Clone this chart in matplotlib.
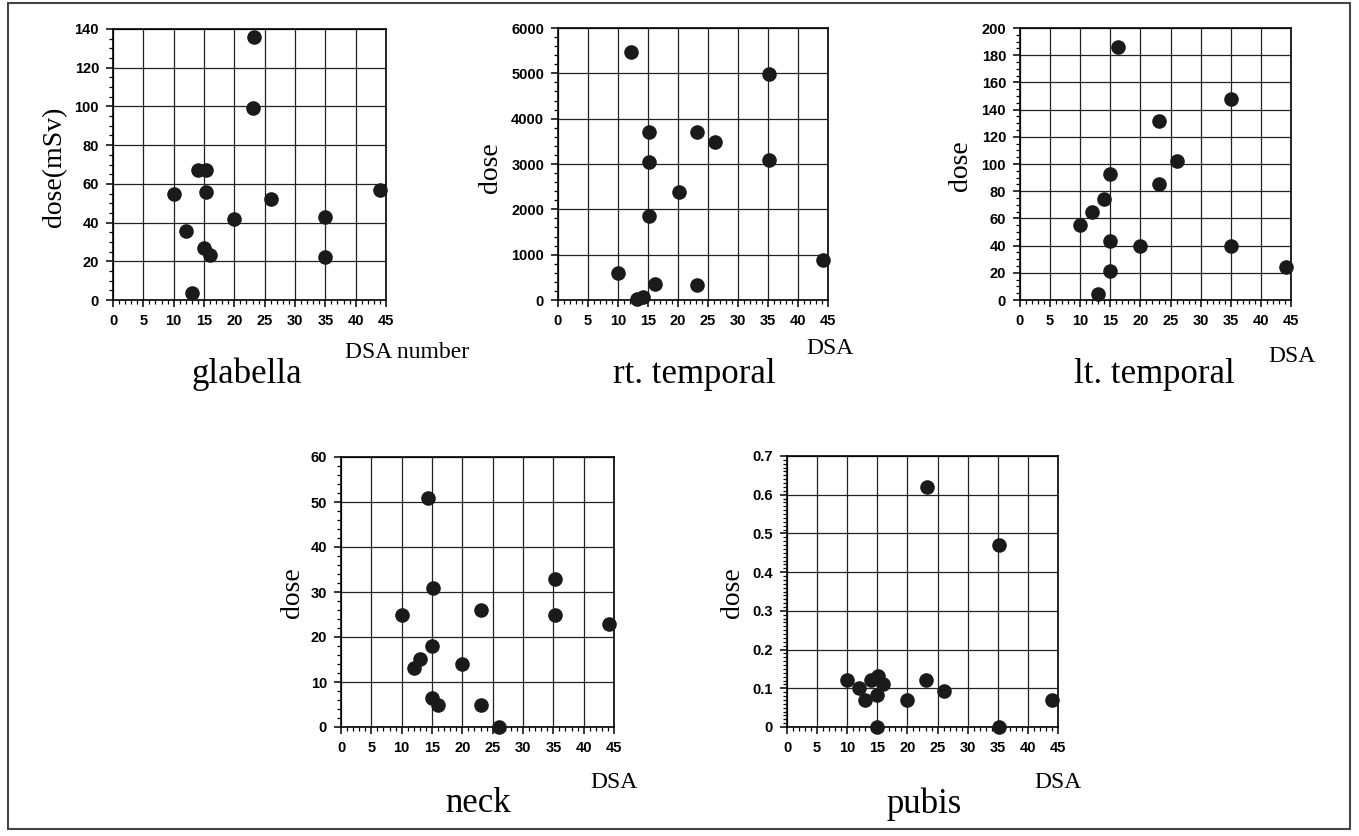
import numpy as np
import matplotlib.pyplot as plt
from matplotlib.patches import Rectangle
from matplotlib.ticker import MultipleLocator

W, H = 1359, 836

# DSA numbers and dose readings, one list per site
glabella_x = [10, 12, 13, 14, 15.3, 15.3, 15, 16, 20, 23, 23.3, 26, 35, 35, 44]
glabella_y = [55, 35.5, 3.4, 67, 67, 56, 27, 23, 42, 99, 136, 52, 43, 22, 57]

rt_x = [10, 12.2, 13.1, 14.1, 15.1, 15.1, 15.2, 16.2, 20.2, 23.1, 23.1, 26.2, 35.2, 35.2, 44.2]
rt_y = [600, 5460, 25, 75, 1860, 3040, 3710, 345, 2390, 3700, 320, 3475, 4980, 3080, 890]

lt_x = [9.9, 12, 13, 14, 15, 15, 15, 16.2, 20, 23.1, 23.1, 26, 35, 35, 44.2]
lt_y = [55, 65, 4.4, 74, 93, 43.5, 21, 186, 39.5, 131.5, 85.5, 102, 148, 40, 24]

neck_x = [10, 12, 13, 14.3, 15, 15, 15.1, 16, 20, 23.1, 23, 26, 35.2, 35.2, 44.1]
neck_y = [25, 13.2, 15.2, 51, 6.4, 18, 31, 5, 14, 26, 5, 0, 33, 25, 23]

pubis_x = [10, 12, 13, 13.9, 15.1, 15, 15, 16, 20, 23, 23.2, 26.1, 35.2, 35.2, 44]
pubis_y = [0.122, 0.102, 0.07, 0.122, 0.132, 0.082, 0.0, 0.111, 0.07, 0.122, 0.62, 0.092, 0.47, 0.0, 0.07]

serif = ['Liberation Serif', 'DejaVu Serif']
sans = ['Liberation Sans', 'DejaVu Sans']

fig = plt.figure(figsize=(W / 100, H / 100), dpi=100)


def px(x, y):
    return x / W, 1 - y / H


def panel(box, xs, ys, ymax, ymajor, yminor, yfmt, title, tpos, ylab, lpos, dsa, dpos):
    l, t, r, b = box
    ax = fig.add_axes([l / W, 1 - b / H, (r - l) / W, (b - t) / H])
    ax.set_xlim(0, 45)
    ax.set_ylim(0, ymax)
    ax.xaxis.set_major_locator(MultipleLocator(5))
    ax.xaxis.set_minor_locator(MultipleLocator(1))
    ax.yaxis.set_major_locator(MultipleLocator(ymajor))
    ax.yaxis.set_minor_locator(MultipleLocator(yminor))
    ax.yaxis.set_major_formatter(yfmt)
    ax.grid(True, which='major', color='#222222', linewidth=0.9)
    ax.set_axisbelow(True)
    for s in ax.spines.values():
        s.set_linewidth(1.2)
    ax.tick_params(which='major', direction='out', length=5, width=1.1, pad=5,
                   labelsize=10.5)
    ax.tick_params(which='minor', direction='out', length=3, width=0.9)
    for lb in ax.get_xticklabels() + ax.get_yticklabels():
        lb.set_family(sans)
        lb.set_fontweight('bold')
    ax.scatter(xs, ys, s=90, color='#1a1a1a', zorder=3, clip_on=False)
    fig.text(*px(*tpos), title, family=serif, fontsize=25, ha='center', va='center')
    fig.text(*px(*lpos), ylab, family=serif, fontsize=20, rotation=90,
             ha='center', va='center')
    fig.text(*px(*dpos), dsa, family=serif, fontsize=17, ha='left', va='center')
    return ax


panel((113, 29, 386, 300), glabella_x, glabella_y, 140, 20, 5, '{x:.0f}',
      'glabella', (247, 374), 'dose(mSv)', (55, 167), 'DSA number', (345, 352))
panel((558, 28, 828, 300), rt_x, rt_y, 6000, 1000, 200, '{x:.0f}',
      'rt. temporal', (694, 374), 'dose', (490, 168), 'DSA', (806, 348))
panel((1020, 28, 1291, 300), lt_x, lt_y, 200, 20, 5, '{x:.0f}',
      'lt. temporal', (1154, 374), 'dose', (961, 166), 'DSA', (1268, 357))
panel((341, 457, 614, 727), neck_x, neck_y, 60, 10, 2, '{x:.0f}',
      'neck', (478, 804), 'dose', (292, 593), 'DSA', (590, 783))
panel((787, 456, 1058, 727), pubis_x, pubis_y, 0.7, 0.1, 0.01,
      lambda v, p: '0' if abs(v) < 1e-9 else f'{v:.1f}',
      'pubis', (924, 804), 'dose', (733, 593), 'DSA', (1034, 783))

# outer frame
fig.patches.append(Rectangle((8 / W, 1 - 829 / H), (1350 - 8) / W, (829 - 3) / H,
                             transform=fig.transFigure, fill=False,
                             edgecolor='#444444', linewidth=1.5))

fig.savefig('out.png', dpi=100)
